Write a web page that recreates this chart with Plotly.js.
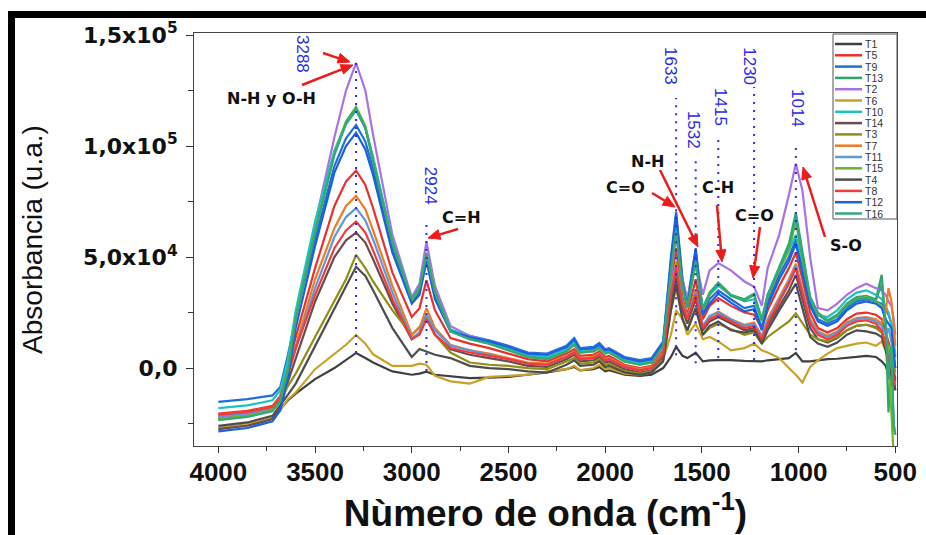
<!DOCTYPE html>
<html>
<head>
<meta charset="utf-8">
<script src="https://cdn.plot.ly/plotly-3.0.1.min.js"></script>
<style>
html,body{margin:0;padding:0;background:#ffffff;}
#chart{width:926px;height:535px;}
</style>
</head>
<body>
<div id="chart"></div>
<script>
// Wavenumber knots (cm-1)
const wavenumber = [4000, 3850, 3720, 3680, 3640, 3600, 3500, 3400, 3340, 3288, 3240, 3200,
  3100, 3000, 2960, 2924, 2880, 2800, 2700, 2600, 2500, 2400,
  2300, 2200, 2160, 2130, 2060, 2030, 2000, 1980, 1900, 1820,
  1760, 1700, 1660, 1633, 1600, 1575, 1532, 1495, 1460, 1415,
  1350, 1280, 1230, 1190, 1160, 1100, 1050, 1014, 980, 940,
  900, 850, 800, 750, 700, 650, 600, 570, 550, 535,
  520, 508, 500];

const T1 = [-27e3, -25.5e3, -22.5e3, -18.5e3, -14.5e3, -11.5e3, -5e3, 0, 3.5e3, 6.8e3, 4.5e3, 2.5e3,
  -1.5e3, -3e3, -2.5e3, -1.6e3, -3e3, -3.8e3, -4.5e3, -4.3e3, -4e3, -3e3,
  -2e3, -0.5e3, 0.5e3, -1e3, -0.5e3, 0.5e3, -1.5e3, -1e3, -3e3, -3.5e3,
  -3e3, 0, 5e3, 9.6e3, 5.5e3, 4.5e3, 6.9e3, 3e3, 3.5e3, 3.6e3,
  3.6e3, 3.2e3, 3e3, 3e3, 3.5e3, 4e3, 4.5e3, 6.8e3, 3e3, 3e3,
  3.5e3, 4e3, 4.2e3, 4.5e3, 5e3, 5.5e3, 5e3, 3e3, 1e3, -3e3,
  -8e3, -5e3, -10e3];

const T5 = [-20.5e3, -19.3e3, -17e3, -12.5e3, 0, 14e3, 45e3, 73e3, 84e3, 89e3, 82.5e3, 72e3,
  43e3, 23e3, 27e3, 39.5e3, 26e3, 13.5e3, 11e3, 9e3, 6.5e3, 4e3,
  3e3, 6.5e3, 8.5e3, 5.5e3, 6e3, 7.5e3, 5e3, 5.5e3, 1.5e3, 0,
  1e3, 8e3, 38e3, 54e3, 32e3, 24e3, 40e3, 22e3, 28e3, 31.5e3,
  28e3, 25e3, 24e3, 18e3, 26e3, 37e3, 45e3, 52e3, 40e3, 25e3,
  18e3, 16e3, 18e3, 22e3, 24.5e3, 25e3, 24e3, 22e3, 16e3, 12e3,
  6e3, 0, -5e3];

const T9 = [-15.2e3, -14e3, -12.3e3, -8.5e3, 6e3, 23e3, 58e3, 91e3, 103.5e3, 109.5e3, 102e3, 90e3,
  54e3, 30e3, 34e3, 50e3, 33e3, 17e3, 14.5e3, 12.5e3, 10e3, 7e3,
  6.5e3, 10e3, 13.5e3, 9e3, 9.5e3, 11.3e3, 8.5e3, 9e3, 5e3, 3.6e3,
  4.5e3, 12e3, 50e3, 70.4e3, 40e3, 30e3, 54e3, 25e3, 31e3, 35e3,
  31e3, 27e3, 28e3, 18e3, 30e3, 42e3, 50e3, 58e3, 45e3, 30e3,
  22e3, 20e3, 22e3, 27e3, 30e3, 31e3, 30e3, 29e3, 27e3, 24e3,
  20e3, 10e3, 5e3];

const T13 = [-22.5e3, -21e3, -18.5e3, -14e3, 0, 24e3, 63e3, 97e3, 111e3, 117.6e3, 109e3, 94e3,
  57e3, 31e3, 36e3, 52e3, 35e3, 17e3, 13.5e3, 11.5e3, 8.5e3, 5.5e3,
  4.5e3, 8e3, 11e3, 7.5e3, 8e3, 9.5e3, 7e3, 7.5e3, 3.5e3, 2e3,
  3e3, 10.5e3, 45e3, 63e3, 37e3, 28e3, 48e3, 27e3, 34e3, 38.5e3,
  33e3, 31e3, 33.5e3, 22e3, 33e3, 46e3, 56e3, 70e3, 52e3, 32e3,
  25e3, 21.5e3, 24e3, 29e3, 32e3, 32.5e3, 31e3, 42e3, 20e3, -20e3,
  5e3, -26e3, -30e3];

const T2 = [-22e3, -21e3, -18e3, -15e3, -5e3, 22e3, 65e3, 104e3, 125e3, 137.4e3, 125e3, 105e3,
  60e3, 32e3, 38e3, 56.9e3, 37e3, 19e3, 14.5e3, 12e3, 9.5e3, 6.5e3,
  6e3, 9.5e3, 12.5e3, 8.5e3, 9e3, 10.5e3, 8e3, 8.5e3, 4.5e3, 3e3,
  4e3, 11e3, 42e3, 60e3, 40e3, 31e3, 49e3, 33e3, 44e3, 47.3e3,
  44e3, 39e3, 36.6e3, 28e3, 45e3, 60e3, 78e3, 92e3, 80e3, 50e3,
  27e3, 26e3, 29e3, 33e3, 36e3, 38e3, 36e3, 35e3, 33e3, 30e3,
  28e3, 22e3, 15e3];

const T6 = [-27e3, -25.5e3, -22.5e3, -19e3, -14e3, -11e3, -0.5e3, 6.5e3, 10.5e3, 14.9e3, 11e3, 6.2e3,
  1e3, 1e3, 2e3, 1.5e3, -3.5e3, -6e3, -7e3, -4e3, -3.5e3, -3e3,
  -1.5e3, -0.5e3, 1e3, -1e3, 0, 1.5e3, -0.5e3, 0, -2.5e3, -3e3,
  -2e3, 4e3, 15e3, 26e3, 22e3, 15e3, 20e3, 13e3, 14e3, 12e3,
  8e3, 9e3, 11e3, 8e3, 7e3, 4.5e3, 0, -3e3, -6.5e3, 0.5e3,
  3.5e3, 6.5e3, 9e3, 10e3, 11e3, 11.5e3, 10e3, 12e3, 8e3, 10e3,
  5e3, 2e3, 0];

const T10 = [-18e3, -16.8e3, -14.5e3, -10e3, 4e3, 26e3, 66e3, 98e3, 110e3, 116e3, 108e3, 95e3,
  57e3, 31e3, 35.5e3, 51.5e3, 34e3, 17.5e3, 14e3, 12e3, 9e3, 6e3,
  5e3, 8.5e3, 11.5e3, 8e3, 8.5e3, 9.8e3, 7.5e3, 8e3, 4e3, 2.5e3,
  3.5e3, 11e3, 46e3, 64e3, 38e3, 29e3, 50e3, 26e3, 33e3, 37e3,
  33e3, 30e3, 31e3, 21e3, 33e3, 45e3, 53e3, 60e3, 48e3, 32e3,
  24e3, 23e3, 26e3, 31e3, 34e3, 35e3, 33e3, 31e3, 28e3, 25e3,
  20e3, 12e3, 6e3];

const T14 = [-27.5e3, -26e3, -23e3, -18e3, -6e3, 4e3, 30e3, 50e3, 57.5e3, 61e3, 56.5e3, 49e3,
  29e3, 13e3, 16e3, 24e3, 15e3, 8.5e3, 6e3, 4.5e3, 3e3, 1e3,
  0.5e3, 4e3, 6e3, 3e3, 3.5e3, 5e3, 2.5e3, 3e3, -0.5e3, -2e3,
  -1e3, 5e3, 30e3, 42e3, 26e3, 20e3, 31e3, 17e3, 21e3, 23e3,
  20e3, 17e3, 18e3, 12.5e3, 19e3, 28e3, 35e3, 42e3, 31e3, 18e3,
  13e3, 11.5e3, 13.5e3, 17e3, 19e3, 19.5e3, 18.5e3, 16e3, 10e3, 6e3,
  2e3, -3e3, -6e3];

const T3 = [-23e3, -21.8e3, -19e3, -15e3, -8e3, -2.5e3, 14e3, 30e3, 40e3, 51e3, 45e3, 39e3,
  26e3, 15e3, 18.5e3, 22.5e3, 15e3, 7e3, 2.5e3, 1.5e3, 1e3, 0,
  -0.5e3, 3e3, 4.5e3, 2e3, 2.5e3, 4e3, 1.5e3, 2e3, -1.5e3, -2.5e3,
  -1.5e3, 4e3, 26e3, 36e3, 22e3, 17e3, 27e3, 15e3, 18e3, 20e3,
  17.5e3, 15e3, 16e3, 11e3, 14e3, 18e3, 21e3, 24.7e3, 20e3, 15e3,
  13e3, 12e3, 14e3, 17e3, 19e3, 19.5e3, 18e3, 16e3, 12e3, 8e3,
  5e3, 2e3, -2e3];

const T7 = [-21e3, -19.8e3, -17.5e3, -13e3, -1.5e3, 10e3, 40e3, 63e3, 73e3, 77.5e3, 71.5e3, 62e3,
  37e3, 15e3, 18e3, 27e3, 18e3, 10.5e3, 8e3, 6.5e3, 4.5e3, 2.5e3,
  2e3, 5.5e3, 7.5e3, 4.5e3, 5e3, 6.5e3, 4e3, 4.5e3, 1e3, -0.5e3,
  0.5e3, 7e3, 35e3, 48e3, 30e3, 23e3, 35e3, 19e3, 23e3, 25.5e3,
  22e3, 19.5e3, 20.5e3, 14.5e3, 22e3, 32e3, 40e3, 47e3, 35e3, 22e3,
  16.5e3, 14.5e3, 16.5e3, 20.5e3, 22.5e3, 23e3, 22e3, 20e3, 25e3, 36e3,
  30e3, 20e3, 10e3];

const T11 = [-21.5e3, -20.3e3, -18e3, -13.5e3, -2.5e3, 8.5e3, 36e3, 59e3, 68e3, 72e3, 66.5e3, 58e3,
  34e3, 13.5e3, 16e3, 24e3, 17e3, 10e3, 8e3, 6e3, 4e3, 2e3,
  1.5e3, 5e3, 7e3, 4e3, 4.5e3, 6e3, 3.5e3, 4e3, 0.5e3, -1e3,
  0, 6.5e3, 34e3, 46e3, 29e3, 22.5e3, 34e3, 19e3, 23.5e3, 25e3,
  22e3, 19e3, 20e3, 14e3, 21e3, 31e3, 39e3, 46e3, 34e3, 21e3,
  16e3, 14e3, 16e3, 20e3, 22e3, 22.5e3, 21e3, 19e3, 15e3, 18e3,
  12e3, 5e3, 0];

const T15 = [-23e3, -21.5e3, -19e3, -14.5e3, -0.5e3, 23e3, 62e3, 96.5e3, 110.5e3, 117e3, 108.5e3, 93.5e3,
  56e3, 30.5e3, 35.5e3, 51.5e3, 34.5e3, 16.5e3, 13e3, 11e3, 8e3, 5e3,
  4e3, 7.5e3, 10.5e3, 7e3, 7.5e3, 9e3, 6.5e3, 7e3, 3e3, 1.5e3,
  2.5e3, 10e3, 44e3, 61e3, 36e3, 27e3, 47e3, 26e3, 33e3, 38e3,
  32.5e3, 30.5e3, 33e3, 21.5e3, 32e3, 44e3, 53e3, 66e3, 49e3, 31e3,
  24e3, 21e3, 23.5e3, 28.5e3, 31e3, 32e3, 30e3, 28e3, 22e3, 5e3,
  -20e3, -40e3, -40e3];

const T4 = [-26e3, -24.5e3, -21.5e3, -17e3, -12e3, -7e3, 10e3, 27e3, 36.5e3, 45.6e3, 41.5e3, 35e3,
  18e3, 5e3, 8.6e3, 7.5e3, 6e3, 4.5e3, 1e3, 0, -0.5e3, -1.5e3,
  -2e3, 1.5e3, 3.5e3, 1e3, 1.5e3, 3e3, 0.5e3, 1e3, -2e3, -3e3,
  -2e3, 3e3, 26e3, 38e3, 22e3, 17e3, 27e3, 15e3, 19e3, 21e3,
  17e3, 16e3, 17e3, 11e3, 17e3, 26e3, 33e3, 38e3, 27e3, 14e3,
  11e3, 9.6e3, 11.5e3, 15e3, 17e3, 16.5e3, 15.5e3, 14e3, 8e3, 3e3,
  -2e3, -6e3, -10e3];

const T8 = [-21e3, -19.8e3, -17.5e3, -13.5e3, -3e3, 9e3, 33e3, 54e3, 62e3, 66e3, 61e3, 53e3,
  31e3, 13e3, 15e3, 22e3, 15e3, 9e3, 7e3, 5.5e3, 4e3, 2e3,
  1.5e3, 5e3, 7e3, 4e3, 4.5e3, 6e3, 3.5e3, 4e3, 0.5e3, -1e3,
  0, 6e3, 33e3, 45e3, 28e3, 22e3, 33e3, 18e3, 22e3, 24e3,
  21e3, 18e3, 19e3, 13e3, 20e3, 30e3, 38e3, 45e3, 33e3, 20e3,
  15e3, 13e3, 15e3, 19e3, 21e3, 21.5e3, 20e3, 17e3, 10e3, 4e3,
  0, -4e3, -8e3];

const T12 = [-28.5e3, -27e3, -24e3, -19e3, -4e3, 18e3, 55e3, 88e3, 100e3, 106e3, 98.5e3, 87e3,
  52e3, 29e3, 33e3, 48e3, 31e3, 16.5e3, 14e3, 12e3, 9.5e3, 6.5e3,
  6e3, 9.5e3, 13e3, 8.5e3, 9e3, 10.5e3, 8e3, 8.5e3, 4.5e3, 3e3,
  4e3, 11e3, 48e3, 69e3, 38e3, 28e3, 53e3, 24e3, 29e3, 33.5e3,
  29.5e3, 25.5e3, 26.5e3, 17e3, 28e3, 40e3, 48e3, 56e3, 43e3, 28e3,
  21e3, 19e3, 21e3, 26e3, 29e3, 30e3, 29e3, 27e3, 22e3, 20e3,
  18e3, 8e3, 0];

const T16 = [-23.5e3, -22e3, -19.5e3, -15e3, -1e3, 22e3, 61e3, 96e3, 110e3, 116.5e3, 108e3, 93e3,
  56.5e3, 31e3, 36e3, 51e3, 34e3, 16.5e3, 13e3, 11e3, 8e3, 5e3,
  4e3, 7.5e3, 10.5e3, 7e3, 7.5e3, 9e3, 6.5e3, 7e3, 3e3, 1.5e3,
  2.5e3, 10e3, 44e3, 62e3, 37e3, 27.5e3, 48e3, 26.5e3, 33.5e3, 38e3,
  32.5e3, 30.5e3, 33e3, 21.5e3, 32.5e3, 45e3, 55e3, 68e3, 50e3, 31.5e3,
  24.5e3, 21e3, 23.5e3, 28e3, 31e3, 31.5e3, 30.5e3, 38e3, 20e3, -5e3,
  10e3, -25e3, -30e3];

const seriesNames = ['T1','T5','T9','T13','T2','T6','T10','T14','T3','T7','T11','T15','T4','T8','T12','T16'];
const seriesValues = [T1, T5, T9, T13, T2, T6, T10, T14, T3, T7, T11, T15, T4, T8, T12, T16];
const seriesColors = ['#3f3f3f','#e8302e','#1f6fd6','#2ea56a','#a872e6','#c9a12a','#1bc2c6','#6e4b4b',
  '#8f8f16','#f07a24','#5d99d6','#6cb52a','#4d4d4d','#f2393b','#1861e0','#33a878'];

// Peak markers (wavenumber labels)
const peakLabels = ['3288','2924','1633','1532','1415','1230','1014'];
const peakWn = [3288, 2924, 1633, 1532, 1415, 1230, 1014];
const peakLineTop = [137400, 66700, 121600, 93700, 104000, 126600, 101800];
const peakLineBottom = [6800, -1300, 5800, 2200, 4500, 3600, 8100];
const peakLabelX = [3562, 2905, 1659, 1540, 1407, 1252, 1003];
const peakLabelY = [141400, 82000, 136000, 107200, 117600, 136000, 117100];

// Bond labels
const bondLabels = ['N-H y O-H','C=H','N-H','C=O','C-H','C=O','S-O'];
const bondX = [3727, 2745, 1783, 1897, 1416, 1230, 754];
const bondY = [121200, 68000, 93200, 81500, 81100, 68900, 55000];

// Red arrows: tail and tip, screen pixels
const arrowTail = [[323, 53], [302, 85], [458, 229], [652, 193], [660, 170], [717, 205], [760, 227], [825, 237]];
const arrowTip = [[350, 62], [353, 65], [428, 238], [675, 207], [698, 247], [722, 262], [753, 278], [803, 167]];

const yTickVals = [0, 50000, 100000, 150000];
const yTickText = ['0,0', '5,0x10<sup>4</sup>', '1,0x10<sup>5</sup>', '1,5x10<sup>5</sup>'];
const xTickVals = [4000, 3500, 3000, 2500, 2000, 1500, 1000, 500];

seriesValues.forEach((s, i) => {
  if (s.length !== wavenumber.length) throw new Error(seriesNames[i] + ' length ' + s.length);
});

const traces = seriesValues.map((vals, i) => ({
  type: 'scatter', mode: 'lines', name: seriesNames[i],
  x: wavenumber, y: vals,
  line: {color: seriesColors[i], width: 2.2},
  showlegend: false, hoverinfo: 'skip'
}));

// plot-area pixel frame: left 194, right 897, top 33, bottom 446
const L = 194, R = 897, TOP = 33, BOT = 446;
const px2x = px => (px - L) / (R - L);
const py2y = py => (BOT - py) / (BOT - TOP);

const shapes = [];
const annotations = [];

// dotted guide lines and rotated wavenumber labels
peakWn.forEach((w, i) => {
  shapes.push({type: 'line', xref: 'x', yref: 'y', x0: w, x1: w, y0: peakLineBottom[i], y1: peakLineTop[i],
    line: {color: '#2a2ae0', width: 2, dash: '2px,6px'}, layer: 'above'});
  annotations.push({xref: 'x', yref: 'y', x: peakLabelX[i], y: peakLabelY[i], text: peakLabels[i],
    showarrow: false, textangle: 90,
    font: {family: 'Liberation Sans, Arial, sans-serif', size: 17, color: '#2a2ae8'}});
});

bondLabels.forEach((t, i) => {
  annotations.push({xref: 'x', yref: 'y', x: bondX[i], y: bondY[i], text: t, showarrow: false,
    font: {family: 'DejaVu Sans, sans-serif', size: 16, color: '#111111', weight: 'bold'}});
});

// arrows drawn as shapes (shaft + filled head)
const headLen = 12, headHalf = 5;
arrowTail.forEach((tail, i) => {
  const tip = arrowTip[i];
  const dx = tip[0] - tail[0], dy = tip[1] - tail[1];
  const len = Math.hypot(dx, dy);
  const ux = dx / len, uy = dy / len;
  const bx = tip[0] - ux * headLen, by = tip[1] - uy * headLen;
  const nx = -uy, ny = ux;
  shapes.push({type: 'line', xref: 'paper', yref: 'paper',
    x0: px2x(tail[0]), y0: py2y(tail[1]), x1: px2x(bx + ux * 2), y1: py2y(by + uy * 2),
    line: {color: '#ee1b1b', width: 2.5}, layer: 'above'});
  const p1 = [bx + nx * headHalf, by + ny * headHalf];
  const p2 = [bx - nx * headHalf, by - ny * headHalf];
  shapes.push({type: 'path', xref: 'paper', yref: 'paper',
    path: 'M' + px2x(tip[0]) + ',' + py2y(tip[1]) + ' L' + px2x(p1[0]) + ',' + py2y(p1[1]) +
      ' L' + px2x(p2[0]) + ',' + py2y(p2[1]) + ' Z',
    fillcolor: '#ee1b1b', line: {color: '#ee1b1b', width: 1}, layer: 'above'});
});

// manual legend
const legLeft = 833, legRight = 897, legTop = 34, legBottom = 219;
shapes.push({type: 'rect', xref: 'paper', yref: 'paper', x0: px2x(legLeft), x1: px2x(legRight),
  y0: py2y(legBottom), y1: py2y(legTop), line: {color: '#555555', width: 1}, fillcolor: '#ffffff', layer: 'above'});
seriesNames.forEach((n, i) => {
  const py = 44 + 11.3 * i;
  shapes.push({type: 'line', xref: 'paper', yref: 'paper', x0: px2x(835), x1: px2x(862), y0: py2y(py), y1: py2y(py),
    line: {color: seriesColors[i], width: 2.5}, layer: 'above'});
  annotations.push({xref: 'paper', yref: 'paper', x: px2x(864), y: py2y(py), text: n, showarrow: false,
    xanchor: 'left', yanchor: 'middle', borderpad: 0,
    font: {family: 'Liberation Sans, Arial, sans-serif', size: 10.5, color: '#333333'}});
});

// black page frame (left & top bars)
shapes.push({type: 'rect', xref: 'paper', yref: 'paper', x0: px2x(8), x1: px2x(15), y0: py2y(540), y1: py2y(11),
  fillcolor: '#000000', line: {width: 0}, layer: 'above'});
shapes.push({type: 'rect', xref: 'paper', yref: 'paper', x0: px2x(8), x1: px2x(930), y0: py2y(18), y1: py2y(11),
  fillcolor: '#000000', line: {width: 0}, layer: 'above'});

const layout = {
  width: 926, height: 535,
  margin: {l: L, r: 926 - R, t: TOP, b: 535 - BOT},
  paper_bgcolor: '#ffffff', plot_bgcolor: '#ffffff',
  showlegend: false,
  xaxis: {
    range: [4126, 491], tickmode: 'array', tickvals: xTickVals,
    ticks: 'outside', ticklen: 6, tickwidth: 1, tickcolor: '#333',
    minor: {tickmode: 'array', tickvals: [3750, 3250, 2750, 2250, 1750, 1250, 750], ticks: 'outside', ticklen: 4, tickcolor: '#333'},
    showline: true, mirror: true, linecolor: '#444', linewidth: 1,
    showgrid: false, zeroline: false,
    ticklabelstandoff: -3,
    tickfont: {family: 'Liberation Sans, Arial, sans-serif', size: 26, color: '#111', weight: 'bold'},
    title: {text: 'Nùmero de onda (cm<sup>-1</sup>)', standoff: 8,
      font: {family: 'Liberation Sans, Arial, sans-serif', size: 37, color: '#111', weight: 'bold'}}
  },
  yaxis: {
    range: [-35100, 150900], tickmode: 'array', tickvals: yTickVals, ticktext: yTickText,
    ticks: 'outside', ticklen: 7, tickwidth: 1, tickcolor: '#333',
    minor: {tickmode: 'array', tickvals: [-25000, 25000, 75000, 125000], ticks: 'outside', ticklen: 5, tickcolor: '#333'},
    showline: true, mirror: true, linecolor: '#444', linewidth: 1,
    showgrid: false, zeroline: false,
    ticklabelstandoff: 4,
    tickfont: {family: 'DejaVu Sans, sans-serif', size: 22, color: '#111', weight: 'bold'},
    title: {text: 'Absorbancia (u.a.)', standoff: 32,
      font: {family: 'Liberation Sans, Arial, sans-serif', size: 28, color: '#111'}}
  },
  shapes: shapes,
  annotations: annotations
};

Plotly.newPlot('chart', traces, layout, {displayModeBar: false, staticPlot: true});
</script>
</body>
</html>
